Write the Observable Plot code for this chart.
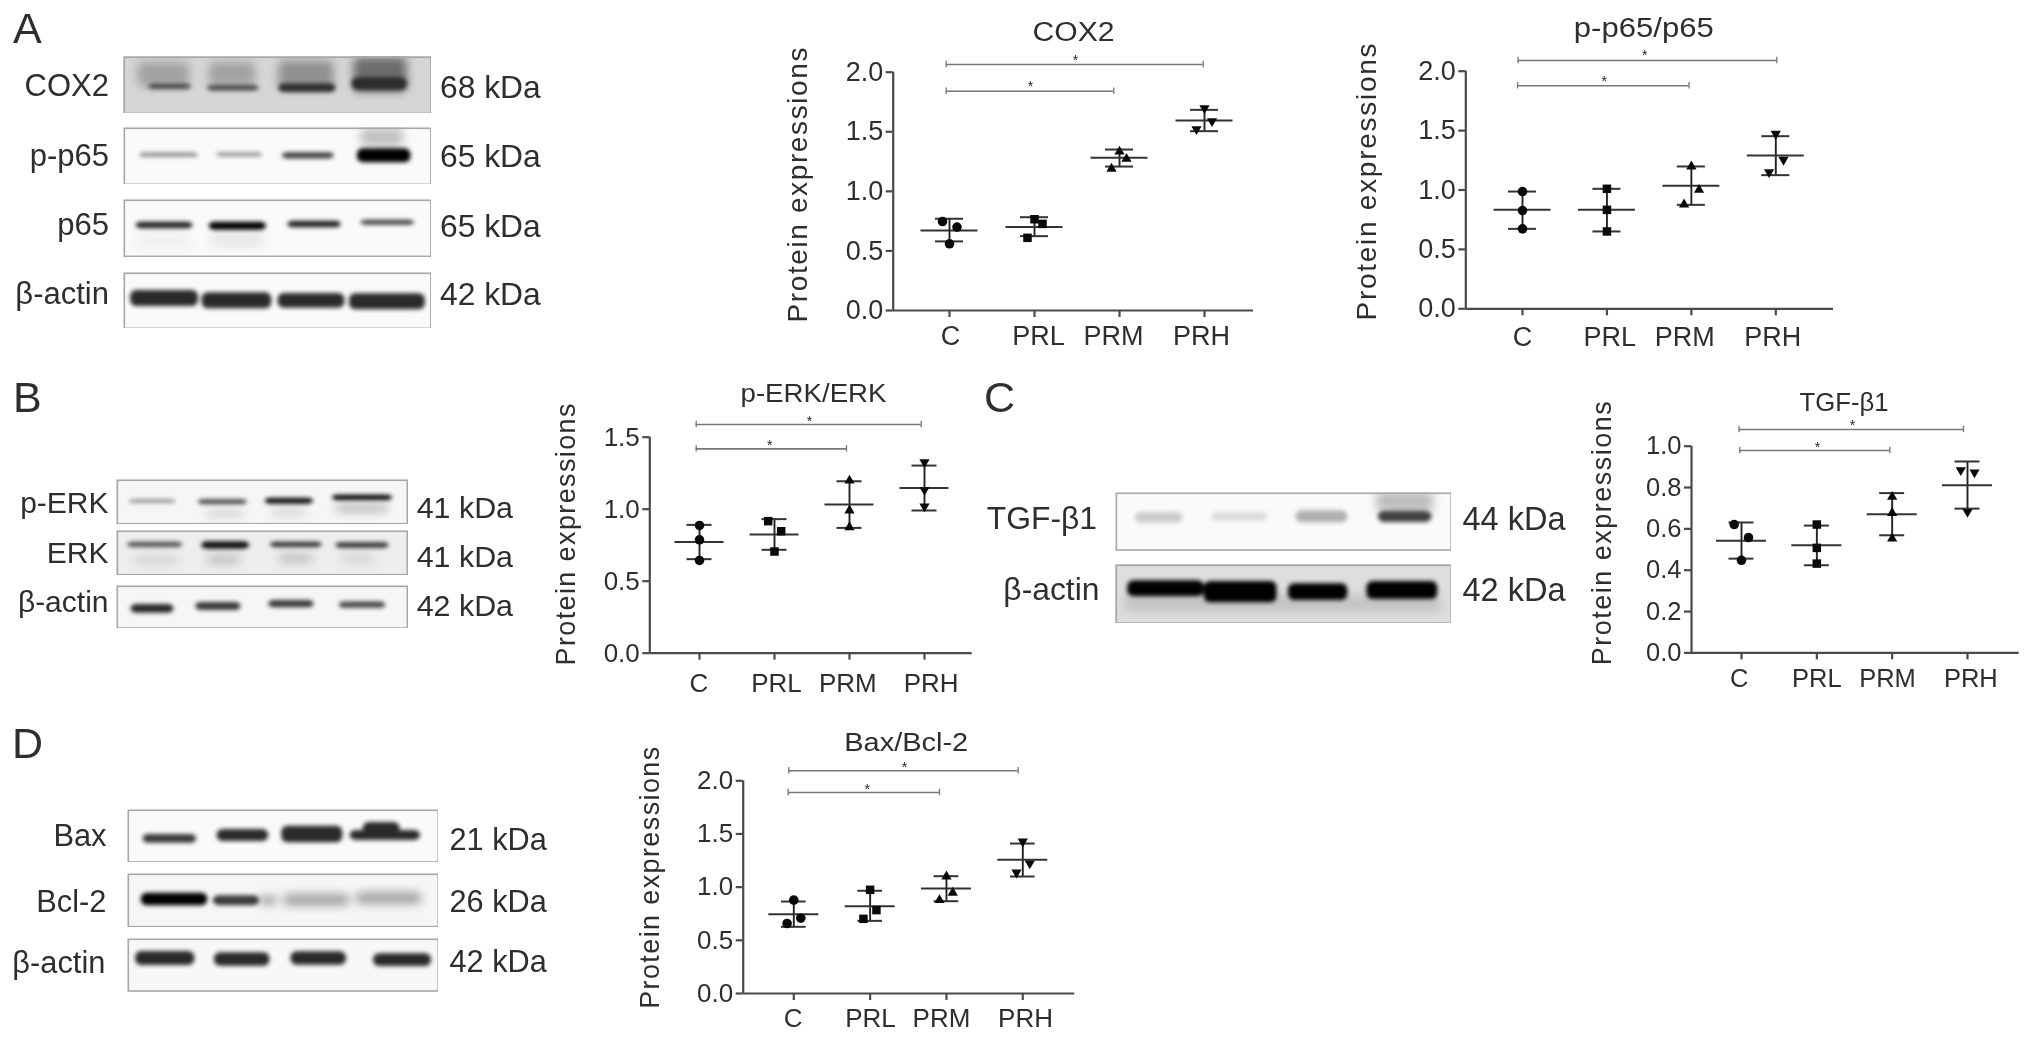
<!DOCTYPE html>
<html><head><meta charset="utf-8">
<script src="https://cdn.jsdelivr.net/npm/d3@7"></script>
<script src="https://cdn.jsdelivr.net/npm/@observablehq/plot@0.6"></script>
<style>
html,body{margin:0;padding:0;background:#fff;overflow:hidden}
#fig{position:relative;width:2031px;height:1041px;filter:blur(.7px);font-family:"Liberation Sans",Arial,sans-serif;color:#2e2e2e}
.lab{position:absolute;white-space:nowrap;line-height:1;transform:translateY(-50%)}
.lab.r{transform:translate(-100%,-50%)}
</style></head><body><div id="fig"></div>
<script>
const categories = ["C","PRL","PRM","PRH"];
const yTitle = "Protein expressions";

// values per category, three points each; jitter = sideways offset of a point in px
const cox2Points = [[0.747,0.70,0.56],[0.766,0.727,0.61],[1.334,1.273,1.19],[1.698,1.589,1.522]];
const cox2Jitter = [[-7,7.5,0],[0,8,-7],[0,7,-8],[0,7.5,-8]];
const cox2Means  = [0.671,0.70,1.281,1.594];
const cox2Upper  = [0.77,0.783,1.351,1.684];
const cox2Lower  = [0.58,0.624,1.208,1.505];

const p65Points = [[0.987,0.827,0.673],[1.01,0.833,0.651],[1.198,1.001,0.878],[1.473,1.254,1.15]];
const p65Jitter = [[0,0,0],[0,0,0],[0,7.7,-7.3],[0,7.7,-6.7]];
const p65Means  = [0.833,0.833,1.035,1.29];
const p65Upper  = [0.987,1.01,1.198,1.453];
const p65Lower  = [0.673,0.651,0.875,1.125];

const erkPoints = [[0.887,0.787,0.644],[0.917,0.847,0.706],[1.199,0.991,0.875],[1.326,1.134,1.019]];
const erkJitter = [[0,0,0],[-6.3,6.7,0],[0,0,0],[0,0,0]];
const erkMeans  = [0.773,0.824,1.032,1.148];
const erkUpper  = [0.891,0.931,1.194,1.303];
const erkLower  = [0.653,0.718,0.87,0.991];

const tgfPoints = [[0.621,0.558,0.448],[0.621,0.508,0.432],[0.755,0.677,0.553],[0.884,0.873,0.682]];
const tgfJitter = [[-7.3,7,0],[0,0,0],[0,0,0],[-6.7,7,0]];
const tgfMeans  = [0.542,0.521,0.671,0.811];
const tgfUpper  = [0.631,0.616,0.773,0.926];
const tgfLower  = [0.456,0.424,0.569,0.698];

const baxPoints = [[0.878,0.708,0.658],[0.975,0.784,0.702],[1.10,0.947,0.878],[1.429,1.223,1.138]];
const baxJitter = [[0,7,-6.7],[0,6.3,-6.7],[0,6.3,-7],[0,7,-6.3]];
const baxMeans  = [0.746,0.821,0.987,1.257];
const baxUpper  = [0.865,0.966,1.103,1.41];
const baxLower  = [0.627,0.683,0.868,1.10];

const symbols = ["circle","square","triangle","triangle"];

// layout of each graph, in page pixels
const graphs = [
 {title:"COX2", pts:cox2Points, jit:cox2Jitter, mean:cox2Means, up:cox2Upper, lo:cox2Lower, ticks:[0,.5,1,1.5,2],
  axisX:892.7,y0:310,yTop:71.7,xEnd:1253,cats:[949,1204],labelX:[950,1038,1113,1201],labelY:336,
  font:27,titleX:1073,titleY:32,titleLen:82,titleFont:27,yTitleX:798,yTitleMid:184.5,yTitleLen:275,yTitleFont:28,
  meanW:28.5,capW:14,
  br:[{y:2.064,a:945.7,b:1202.7,sx:1075,sy:57.5},{y:1.84,a:945.7,b:1113.3,sx:1030,sy:83.5}]},
 {title:"p-p65/p65", pts:p65Points, jit:p65Jitter, mean:p65Means, up:p65Upper, lo:p65Lower, ticks:[0,.5,1,1.5,2],
  axisX:1465,y0:308.3,yTop:70.7,xEnd:1832.7,cats:[1521.7,1775],labelX:[1521.7,1609,1684,1772],labelY:337,
  font:27,titleX:1643,titleY:28,titleLen:140,titleFont:27,yTitleX:1366.7,yTitleMid:181.5,yTitleLen:277,yTitleFont:28,
  meanW:28.5,capW:14,
  br:[{y:2.09,a:1517.3,b:1776,sx:1644,sy:51.7},{y:1.877,a:1516.7,b:1688.3,sx:1603.3,sy:77.7}]},
 {title:"p-ERK/ERK", pts:erkPoints, jit:erkJitter, mean:erkMeans, up:erkUpper, lo:erkLower, ticks:[0,.5,1,1.5],
  axisX:649.3,y0:652.7,yTop:436.7,xEnd:971.7,cats:[699,924],labelX:[698.3,776,847.3,930.7],labelY:682.7,
  font:26,titleX:813,titleY:394,titleLen:146,titleFont:25,yTitleX:566,yTitleMid:534,yTitleLen:262,yTitleFont:27,
  meanW:24.5,capW:12.5,
  br:[{y:1.588,a:695.7,b:920.7,sx:809,sy:418.3},{y:1.419,a:695.7,b:846,sx:769.3,sy:442.3}]},
 {title:"TGF-β1", pts:tgfPoints, jit:tgfJitter, mean:tgfMeans, up:tgfUpper, lo:tgfLower, ticks:[0,.2,.4,.6,.8,1],
  axisX:1690.7,y0:652.7,yTop:446,xEnd:2018.3,cats:[1740.7,1966.7],labelX:[1738.3,1816,1886.7,1970],labelY:678.3,
  font:25.5,titleX:1843.3,titleY:403.3,titleLen:89,titleFont:25,yTitleX:1601.7,yTitleMid:533,yTitleLen:264,yTitleFont:27,
  meanW:25,capW:12.5,
  br:[{y:1.081,a:1738.3,b:1962.7,sx:1851.7,sy:422.3},{y:0.979,a:1739,b:1889,sx:1816.7,sy:444}]},
 {title:"Bax/Bcl-2", pts:baxPoints, jit:baxJitter, mean:baxMeans, up:baxUpper, lo:baxLower, ticks:[0,.5,1,1.5,2],
  axisX:742.7,y0:992.7,yTop:780,xEnd:1074.3,cats:[793.3,1022.3],labelX:[792.7,870,941,1025],labelY:1018.3,
  font:26,titleX:905.7,titleY:741.7,titleLen:124,titleFont:26,yTitleX:650,yTitleMid:877,yTitleLen:262,yTitleFont:27,
  meanW:25,capW:12.3,
  br:[{y:2.094,a:788.3,b:1017.7,sx:904,sy:763.3},{y:1.89,a:787.7,b:939,sx:866.7,sy:785.7}]}
];

// western-blot strips; band = [x1,x2,yCentre,height,grey], in crop pixels (k crop px = 1 page px across, 3 down)
// soft = diffuse smears behind the sharp bands
const blotA = {ox:0,oy:0,k:2.8,x:[345,1208],strips:[
 {y:[167,340],bg:"#d6d6d6",soft:[[385,530,222,75,"#a2a2a2"],[585,715,222,75,"#a2a2a2"],[780,935,222,85,"#909090"],[990,1140,222,105,"#6c6c6c"]],
  bands:[[415,535,258,15,"#404040"],[580,725,262,15,"#404040"],[780,940,262,26,"#2e2e2e"],[985,1140,250,38,"#2c2c2c"]]},
 {y:[380,553],bg:"#fafafa",soft:[[1010,1130,410,55,"#c0c0c0"]],
  bands:[[390,555,463,13,"#8c8c8c"],[605,735,462,13,"#949494"],[790,935,465,19,"#404040"],[1000,1150,465,42,"#000000"]]},
 {y:[597,770],bg:"#fafafa",soft:[[590,740,720,40,"#e6e6e6"],[380,540,725,40,"#f0f0f0"]],
  bands:[[380,540,675,19,"#222222"],[585,745,677,24,"#000000"],[805,955,672,19,"#222222"],[1010,1160,667,15,"#404040"]]},
 {y:[815,985],bg:"#fafafa",soft:[],
  bands:[[365,555,893,48,"#2a2a2a"],[565,760,900,48,"#2a2a2a"],[778,965,900,44,"#2a2a2a"],[978,1190,903,48,"#2a2a2a"]]}
]};
const blotB = {ox:0,oy:370,k:2.904,x:[338,1185],strips:[
 {y:[327,462],bg:"#f6f6f6",soft:[[600,710,430,20,"#d0d0d0"],[790,890,428,20,"#d0d0d0"],[975,1130,415,20,"#b0b0b0"]],
  bands:[[375,510,393,11,"#8c8c8c"],[575,718,395,14,"#444444"],[770,910,392,18,"#101010"],[965,1140,382,16,"#000000"]]},
 {y:[480,615],bg:"#eeeeee",soft:[[390,520,570,28,"#d4d4d4"],[600,700,568,28,"#c0c0c0"],[810,910,565,28,"#c0c0c0"],[990,1090,565,28,"#d4d4d4"]],
  bands:[[370,530,523,16,"#505050"],[585,725,525,22,"#101010"],[785,935,523,16,"#303030"],[975,1130,525,16,"#303030"]]},
 {y:[645,775],bg:"#f6f6f6",soft:[],
  bands:[[380,505,715,26,"#282828"],[568,700,708,24,"#383838"],[780,912,701,22,"#383838"],[985,1120,704,19,"#444444"]]}
]};
const blotC = {ox:970,oy:370,k:2.613,x:[378,1257],strips:[
 {y:[367,542],bg:"#fafafa",soft:[[1060,1210,395,60,"#bcbcbc"]],
  bands:[[430,555,443,32,"#cccccc"],[630,775,440,26,"#dadada"],[850,985,440,36,"#b0b0b0"],[1065,1205,440,34,"#404040"]]},
 {y:[582,760],bg:"#dedede",soft:[[400,1230,700,50,"#c4c4c4"]],
  bands:[[410,610,655,48,"#000000"],[610,800,665,64,"#000000"],[830,985,665,50,"#000000"],[1035,1220,660,54,"#000000"]]}
]};
const blotD = {ox:0,oy:720,k:2.703,x:[343,1185],strips:[
 {y:[267,427],bg:"#fafafa",soft:[],
  bands:[[385,530,355,26,"#383838"],[585,725,345,36,"#2a2a2a"],[760,925,342,50,"#2a2a2a"],[945,1135,345,30,"#2a2a2a"],[980,1080,325,38,"#2a2a2a"]]},
 {y:[460,622],bg:"#f6f6f6",soft:[[700,750,542,24,"#999999"],[765,945,540,36,"#a4a4a4"],[960,1140,535,36,"#a4a4a4"]],
  bands:[[380,560,538,38,"#000000"],[575,700,542,30,"#3a3a3a"]]},
 {y:[655,815],bg:"#f8f8f8",soft:[],
  bands:[[365,525,715,42,"#2a2a2a"],[578,728,718,40,"#2a2a2a"],[785,935,715,40,"#2a2a2a"],[1008,1165,720,38,"#2a2a2a"]]}
]};
const blots = [blotA,blotB,blotC,blotD];

// text around the blots: [text, x, y, size, right-aligned]
const sideLabels = [
 ["A",13,28,43],["B",13,396.7,43],["C",984,396.7,43],["D",12,742.7,43],
 ["COX2",109,85,31,1],["p-p65",109,155,31,1],["p65",109,224,31,1],["β-actin",109,293,31,1],
 ["68 kDa",440,88.3,31.8],["65 kDa",440,157.3,31.8],["65 kDa",440,226.7,31.8],["42 kDa",440,295,31.8],
 ["p-ERK",108.5,503.3,30,1],["ERK",108.5,552.7,30,1],["β-actin",108.5,602.3,30,1],
 ["41 kDa",416.7,506.7,30.4],["41 kDa",416.7,555.7,30.4],["42 kDa",416.7,605,30.4],
 ["TGF-β1",1097,519.3,31.8,1],["β-actin",1099.4,590,31.8,1],
 ["44 kDa",1462.5,519,32.5],["42 kDa",1462.5,590,32.5],
 ["Bax",106.5,836,30.8,1],["Bcl-2",106.5,901.7,30.8,1],["β-actin",105.4,962.7,30.8,1],
 ["21 kDa",449.5,840,30.7],["26 kDa",449.5,901.7,30.7],["42 kDa",449.5,961.7,30.7]
];

const fig = document.getElementById("fig");

for (const [t,x,y,s,r] of sideLabels) {
  const d = document.createElement("div");
  d.className = "lab" + (r ? " r" : "");
  d.textContent = t;
  d.style.left = x + "px"; d.style.top = y + "px"; d.style.fontSize = s + "px";
  fig.appendChild(d);
}

const bandRect = (data) => Plot.rect(data,{x1:d=>d[0],x2:d=>d[1],y1:d=>d[2]-d[3]/2,y2:d=>d[2]+d[3]/2,fill:d=>d[4],rx:6});
for (const b of blots) for (const s of b.strips) {
  const w = (b.x[1]-b.x[0])/b.k, h = (s.y[1]-s.y[0])/3;
  const svg = Plot.plot({
    width:w, height:h, margin:0,
    style:{position:"absolute",left:(b.ox+b.x[0]/b.k)+"px",top:(b.oy+s.y[0]/3)+"px",background:s.bg,maxWidth:"none"},
    x:{domain:b.x,axis:null}, y:{domain:[s.y[1],s.y[0]],axis:null}, color:{type:"identity"},
    marks:[
      bandRect(s.soft),
      bandRect(s.bands),
      Plot.frame({stroke:"#a8a8a8",strokeWidth:1.6,inset:0.8})
    ]
  });
  const groups = d3.select(svg).selectAll('g[aria-label="rect"]').nodes();
  groups.forEach((g,i)=>{ g.style.filter = "blur(" + (groups.length>1 && i===0 ? 5 : 2) + "px)"; });
  if (!s.soft.length && groups[0]) groups[0].style.filter = "blur(2px)";
  fig.appendChild(svg);
}

for (const p of graphs) {
  const left = p.yTitleX-24, top = Math.min(p.yTitleMid-p.yTitleLen/2, p.titleY-20)-6;
  const width = p.xEnd+4-left, height = p.labelY+22-top;
  const yMax = p.ticks[p.ticks.length-1];
  const spacing = (p.cats[1]-p.cats[0])/3;
  const xAt = px => (px-p.cats[0])/spacing;
  const yAt = py => (p.y0-py)/(p.y0-p.yTop)*yMax;
  const rows = p.pts.flatMap((vs,i)=>vs.map((v,j)=>({x:i+p.jit[i][j]/spacing,y:v})));
  const idx = categories.map((c,i)=>i);
  const capPx = 3.2;
  const svg = Plot.plot({
    width, height, marginLeft:p.axisX-left, marginRight:0, marginTop:p.yTop-top, marginBottom:height-(p.y0-top),
    style:{position:"absolute",left:left+"px",top:top+"px",background:"transparent",maxWidth:"none",
           fontFamily:"'Liberation Sans',Arial,sans-serif",fontSize:p.font+"px",color:"#2e2e2e"},
    x:{domain:[0,3],range:[p.cats[0]-left,p.cats[1]-left],axis:null},
    y:{domain:[0,yMax],axis:null},
    marks:[
      Plot.ruleY(p.ticks.slice(0,1),{x1:xAt(p.axisX),x2:xAt(p.xEnd),stroke:"#4a4a4a",strokeWidth:2.2}),
      Plot.ruleX([xAt(p.axisX)],{y1:0,y2:yMax,stroke:"#4a4a4a",strokeWidth:2.2}),
      Plot.axisY(p.ticks,{anchor:"left",tickFormat:d3.format(".1f"),tickSize:7,tickPadding:3,label:null,stroke:"#4a4a4a",strokeWidth:2.2,fontSize:p.font}),
      Plot.ruleX(idx,{x:d=>d,y1:0,y2:yAt(p.y0+7),stroke:"#4a4a4a",strokeWidth:2.2}),
      Plot.text(categories,{x:(c,i)=>i+(p.labelX[i]-p.cats[0]-i*spacing)/spacing,y:0,dy:p.labelY-p.y0,text:d=>d,fontSize:p.font,lineAnchor:"middle"}),
      Plot.ruleX(idx,{x:d=>d,y1:i=>p.lo[i],y2:i=>p.up[i],stroke:"#222",strokeWidth:1.9}),
      Plot.ruleY(idx,{y:i=>p.mean[i],x1:i=>i-p.meanW/spacing,x2:i=>i+p.meanW/spacing,stroke:"#333",strokeWidth:2}),
      Plot.ruleY(idx,{y:i=>p.up[i],x1:i=>i-p.capW/spacing,x2:i=>i+p.capW/spacing,stroke:"#333",strokeWidth:2}),
      Plot.ruleY(idx,{y:i=>p.lo[i],x1:i=>i-p.capW/spacing,x2:i=>i+p.capW/spacing,stroke:"#333",strokeWidth:2}),
      ...[0,1,2,3].map(i=>Plot.dot(rows.slice(i*3,i*3+3),{x:"x",y:"y",symbol:symbols[i],r:i<2?4.8:3.8,fill:"#0a0a0a",rotate:i===3?180:0})),
      Plot.ruleY(p.br,{y:"y",x1:d=>xAt(d.a),x2:d=>xAt(d.b),stroke:"#777",strokeWidth:1.6}),
      Plot.ruleX(p.br,{x:d=>xAt(d.a),y1:d=>d.y-capPx/(p.y0-p.yTop)*yMax,y2:d=>d.y+capPx/(p.y0-p.yTop)*yMax,stroke:"#777",strokeWidth:1.3}),
      Plot.ruleX(p.br,{x:d=>xAt(d.b),y1:d=>d.y-capPx/(p.y0-p.yTop)*yMax,y2:d=>d.y+capPx/(p.y0-p.yTop)*yMax,stroke:"#777",strokeWidth:1.3}),
      Plot.text(p.br,{x:d=>xAt(d.sx),y:d=>yAt(d.sy),text:()=>"*",fontSize:14,dy:3,fill:"#222",lineAnchor:"middle"}),
      Plot.text([p.title],{x:xAt(p.titleX),y:yAt(p.titleY),text:d=>d,fontSize:p.titleFont,lineAnchor:"middle"}),
      Plot.text([yTitle],{x:xAt(p.yTitleX),y:yAt(p.yTitleMid),text:d=>d,rotate:-90,fontSize:p.yTitleFont,lineAnchor:"middle"})
    ]
  });
  d3.select(svg).selectAll("text").each(function(){
    const t = this.textContent;
    if (t === yTitle) { this.setAttribute("textLength",p.yTitleLen); this.setAttribute("lengthAdjust","spacing"); }
    if (t === p.title) { this.setAttribute("textLength",p.titleLen); this.setAttribute("lengthAdjust","spacingAndGlyphs"); }
  });
  fig.appendChild(svg);
}
</script></body></html>
